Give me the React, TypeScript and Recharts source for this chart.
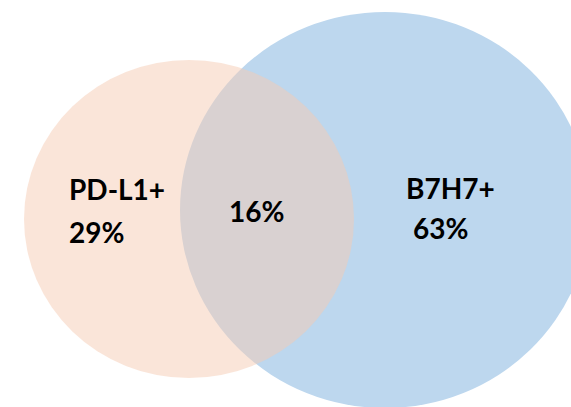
import { ScatterChart, Scatter, XAxis, YAxis } from "recharts";

// values
const SET_NAMES = ["PD-L1+", "B7H7+"];
const SET_SHARES = [29, 63];
const OVERLAP_SHARE = 16;

// layout of the diagram, in chart units (domain 0..571 x 0..407)
const CIRCLE_X = [189, 385];
const CIRCLE_Y = [219, 210];
const CIRCLE_RX = [165, 205];
const CIRCLE_RY = [159, 198];
const CIRCLE_FILL = ["#F5CBB3", "#BDD7EE"];
const CIRCLE_OPACITY = [0.5, 1];

const LABEL_X = [69, 406, 229];
const LABEL_Y = [200, 199, 222];
const LABEL_GAP = [43, 40, 0];
const LABEL_INDENT = [0, 7, 0];

const W = 571;
const H = 407;

const circles = SET_NAMES.map((name, i) => ({
  name,
  x: CIRCLE_X[i],
  y: CIRCLE_Y[i],
  rx: CIRCLE_RX[i],
  ry: CIRCLE_RY[i],
  fill: CIRCLE_FILL[i],
  opacity: CIRCLE_OPACITY[i],
}));

const labels = [
  ...SET_NAMES.map((name, i) => ({ lines: [name, `${SET_SHARES[i]}%`], i })),
  { lines: [`${OVERLAP_SHARE}%`], i: 2 },
].map((l) => ({
  lines: l.lines,
  x: LABEL_X[l.i],
  y: LABEL_Y[l.i],
  gap: LABEL_GAP[l.i],
  indent: LABEL_INDENT[l.i],
}));

// 1 data unit = 1 px since domain matches the plot size
const unitX = W / W;
const unitY = H / H;

const CircleShape = (props: any) => {
  const { cx, cy, payload } = props;
  return (
    <ellipse
      cx={cx}
      cy={cy}
      rx={payload.rx * unitX}
      ry={payload.ry * unitY}
      fill={payload.fill}
      fillOpacity={payload.opacity}
    />
  );
};

const LabelShape = (props: any) => {
  const { cx, cy, payload } = props;
  return (
    <text
      fontFamily="Lato, 'Noto Sans', sans-serif"
      fontWeight={700}
      fontSize={28}
      fill="#000"
    >
      {payload.lines.map((line: string, k: number) => (
        <tspan key={k} x={cx + (k > 0 ? payload.indent : 0)} y={cy + k * payload.gap}>
          {line}
        </tspan>
      ))}
    </text>
  );
};

export default function App() {
  return (
    <div style={{ position: "absolute", left: 0, top: 0, background: "#fff" }}>
      <ScatterChart width={W} height={H} margin={{ top: 0, right: 0, bottom: 0, left: 0 }}>
        <XAxis type="number" dataKey="x" domain={[0, W]} hide />
        <YAxis type="number" dataKey="y" domain={[0, H]} reversed hide />
        <Scatter data={[circles[1]]} shape={CircleShape} isAnimationActive={false} />
        <Scatter data={[circles[0]]} shape={CircleShape} isAnimationActive={false} />
        <Scatter data={labels} shape={LabelShape} isAnimationActive={false} />
      </ScatterChart>
    </div>
  );
}
